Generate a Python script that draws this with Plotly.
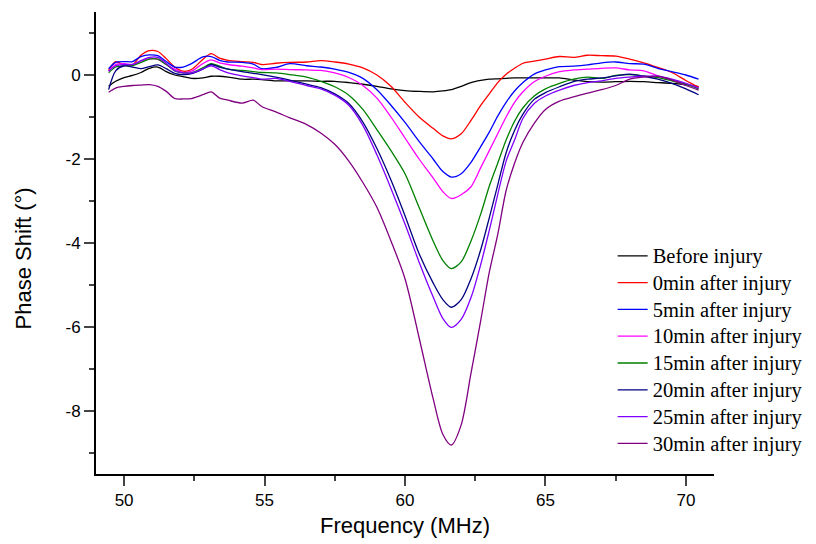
import plotly.graph_objects as go

freq = [49.45, 49.7, 50.0, 50.3, 50.6, 50.9, 51.2, 51.5, 51.8, 52.1, 52.4, 52.8, 53.1, 53.4, 53.7,
        54.2, 54.6, 54.9, 55.4, 55.9, 56.5, 57.0, 57.5, 58.0, 58.5, 59.0, 59.5, 60.0, 60.5, 61.0,
        61.35, 61.65, 62.0, 62.35, 62.7, 63.0, 63.3, 63.6, 63.9, 64.2, 64.6, 65.0, 65.5, 66.0,
        66.5, 67.0, 67.5, 68.0, 68.5, 69.0, 69.5, 70.0, 70.45]

before = [-0.27, -0.15, -0.06, -0.01, 0.06, 0.16, 0.19, 0.08, 0.0, -0.04, -0.08, -0.07, -0.03, -0.03, -0.05,
          -0.10, -0.10, -0.11, -0.14, -0.14, -0.14, -0.15, -0.15, -0.18, -0.22, -0.27, -0.33, -0.37, -0.39, -0.40,
          -0.38, -0.35, -0.27, -0.18, -0.13, -0.10, -0.09, -0.08, -0.07, -0.07, -0.07, -0.07, -0.07, -0.12,
          -0.16, -0.17, -0.16, -0.15, -0.16, -0.18, -0.20, -0.23, -0.28]

min0 = [0.11, 0.32, 0.24, 0.24, 0.47, 0.58, 0.56, 0.39, 0.19, 0.09, 0.13, 0.37, 0.51, 0.40, 0.35,
        0.32, 0.30, 0.25, 0.28, 0.30, 0.31, 0.34, 0.31, 0.26, 0.17, 0.0, -0.27, -0.65, -1.0, -1.27,
        -1.45, -1.52, -1.40, -1.08, -0.72, -0.45, -0.18, 0.02, 0.16, 0.28, 0.33, 0.38, 0.44, 0.42,
        0.47, 0.46, 0.45, 0.38, 0.29, 0.18, 0.06, -0.13, -0.29]

min5 = [0.15, 0.30, 0.32, 0.32, 0.44, 0.48, 0.46, 0.32, 0.19, 0.19, 0.27, 0.43, 0.44, 0.35, 0.31,
        0.30, 0.26, 0.15, 0.18, 0.27, 0.22, 0.19, 0.14, 0.06, -0.08, -0.35, -0.72, -1.13, -1.58, -2.0,
        -2.30, -2.43, -2.35, -2.08, -1.70, -1.36, -0.98, -0.65, -0.38, -0.18, 0.02, 0.12, 0.20, 0.21,
        0.24, 0.29, 0.31, 0.27, 0.26, 0.16, 0.08, 0.0, -0.10]

min10 = [0.09, 0.25, 0.27, 0.25, 0.33, 0.39, 0.37, 0.25, 0.14, 0.06, 0.09, 0.27, 0.36, 0.29, 0.25,
         0.21, 0.17, 0.13, 0.14, 0.13, 0.12, 0.11, 0.05, -0.06, -0.25, -0.55, -1.0, -1.50, -2.0, -2.45,
         -2.78, -2.94, -2.85, -2.66, -2.20, -1.80, -1.40, -1.0, -0.65, -0.40, -0.16, -0.03, 0.08, 0.12,
         0.14, 0.16, 0.17, 0.12, 0.10, -0.02, -0.12, -0.21, -0.31]

min15 = [0.05, 0.19, 0.22, 0.22, 0.30, 0.38, 0.38, 0.25, 0.10, 0.05, 0.05, 0.17, 0.27, 0.21, 0.14,
         0.11, 0.08, 0.06, 0.05, 0.01, -0.05, -0.15, -0.28, -0.48, -0.82, -1.30, -1.80, -2.35, -3.15, -3.95,
         -4.42, -4.61, -4.45, -3.95, -3.30, -2.65, -2.10, -1.55, -1.10, -0.78, -0.50, -0.33, -0.20, -0.10,
         -0.05, -0.08, -0.01, 0.01, -0.02, -0.06, -0.14, -0.22, -0.33]

min20 = [-0.35, 0.10, 0.22, 0.19, 0.15, 0.20, 0.24, 0.15, 0.04, 0.01, 0.03, 0.14, 0.25, 0.19, 0.14,
         0.08, 0.04, 0.01, -0.05, -0.12, -0.22, -0.30, -0.45, -0.68, -1.12, -1.75, -2.50, -3.35, -4.25, -4.95,
         -5.35, -5.53, -5.35, -4.85, -4.15, -3.40, -2.62, -1.85, -1.32, -0.93, -0.58, -0.42, -0.28, -0.16,
         -0.10, -0.07, -0.02, 0.02, -0.03, -0.10, -0.20, -0.33, -0.47]

min25 = [0.09, 0.22, 0.25, 0.25, 0.34, 0.42, 0.42, 0.28, 0.10, 0.05, 0.05, 0.14, 0.22, 0.13, 0.05,
         -0.02, -0.06, -0.10, -0.08, -0.15, -0.25, -0.33, -0.48, -0.72, -1.20, -1.90, -2.70, -3.55, -4.45, -5.28,
         -5.80, -6.01, -5.82, -5.30, -4.50, -3.70, -2.85, -2.05, -1.55, -1.03, -0.68, -0.50, -0.36, -0.25,
         -0.18, -0.14, -0.08, -0.05, -0.03, -0.03, -0.10, -0.20, -0.31]

min30 = [-0.41, -0.31, -0.27, -0.25, -0.24, -0.23, -0.27, -0.39, -0.56, -0.57, -0.56, -0.47, -0.40, -0.55, -0.60,
         -0.67, -0.60, -0.75, -0.88, -1.02, -1.18, -1.38, -1.65, -2.05, -2.56, -3.15, -3.95, -4.85, -6.25, -7.70,
         -8.56, -8.81, -8.33, -7.10, -5.83, -4.70, -3.80, -2.75, -2.10, -1.60, -1.15, -0.82, -0.62, -0.52,
         -0.43, -0.35, -0.25, -0.10, -0.05, -0.03, -0.12, -0.25, -0.36]

names = ["Before injury", "0min after injury", "5min after injury", "10min after injury",
         "15min after injury", "20min after injury", "25min after injury", "30min after injury"]
series = [before, min0, min5, min10, min15, min20, min25, min30]
colors = ["#000000", "#ff0000", "#0000ff", "#ff00ff", "#008000", "#000080", "#8000ff", "#800080"]

ytick_vals = [-8, -6, -4, -2, 0]
ytick_text = ["-8", "-6", "-4", "-2", "0"]
xtick_vals = [50, 55, 60, 65, 70]

fig = go.Figure()
for name, vals, col in zip(names, series, colors):
    fig.add_trace(go.Scatter(x=freq, y=vals, mode="lines",
                             name='<span style="font-size:20.5px">' + name + '</span>',
                             line=dict(color=col, width=1.3, shape="spline", smoothing=0.8)))

# page has an 8px body margin, so the figure is sized to the visible area
fig.update_layout(
    width=808, height=536,
    paper_bgcolor="white", plot_bgcolor="white",
    margin=dict(l=88, r=102, t=4, b=70),
    font=dict(family="Liberation Sans, Arial", size=17, color="black"),
    showlegend=True,
    legend=dict(x=0.836, y=0.512, xanchor="left", yanchor="top",
                font=dict(family="Liberation Serif, Times New Roman", size=18.3, color="black"),
                bgcolor="rgba(0,0,0,0)", borderwidth=0, tracegroupgap=0),
    xaxis=dict(range=[49.0, 71.0], tickvals=xtick_vals, ticks="outside", ticklen=10, tickwidth=1.5,
               showline=True, linecolor="black", linewidth=2, showgrid=False, zeroline=False,
               tickfont=dict(size=17), automargin=False,
               minor=dict(dtick=2.5, tick0=50, ticks="outside", ticklen=5, tickwidth=1.5, showgrid=False),
               title=dict(text="Frequency (MHz)", font=dict(size=22), standoff=8)),
    yaxis=dict(range=[-9.5, 1.5], tickvals=ytick_vals, ticktext=ytick_text, ticks="outside", ticklen=10,
               tickwidth=1.5, showline=True, linecolor="black", linewidth=2, showgrid=False, zeroline=False,
               tickfont=dict(size=17), automargin=False,
               minor=dict(dtick=1, tick0=0, ticks="outside", ticklen=5, tickwidth=1.5, showgrid=False)),
    annotations=[dict(text="Phase Shift (°)", textangle=-90, xref="paper", yref="paper",
                      x=-0.117, y=0.466, xanchor="center", yanchor="middle", showarrow=False,
                      font=dict(size=22))],
)

fig.write_html("out.html")
